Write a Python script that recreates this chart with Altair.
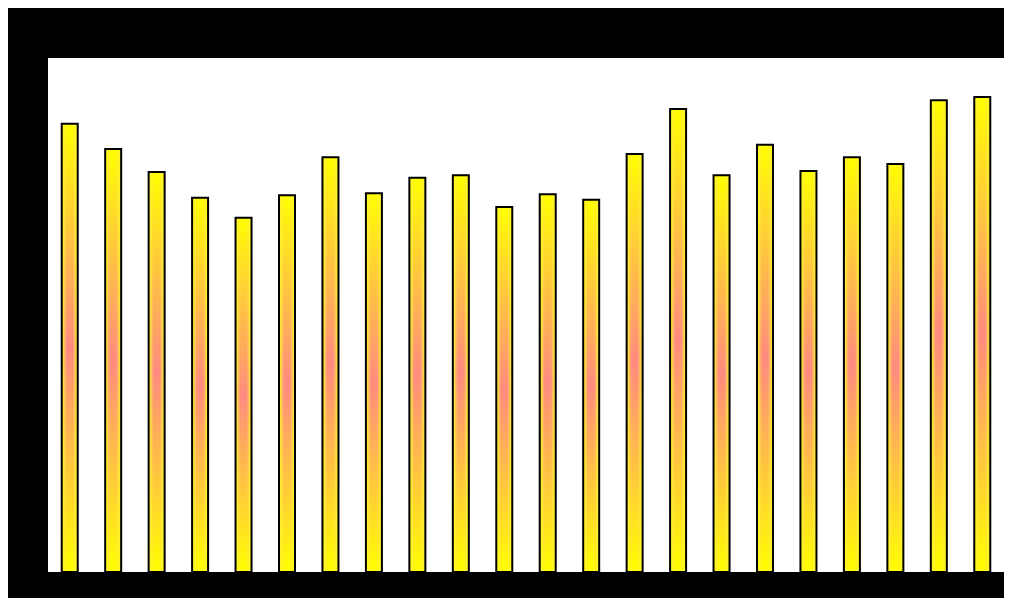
import altair as alt
import pandas as pd

categories = [f"C{i+1}" for i in range(22)]
values = [87.2, 82.3, 77.8, 72.8, 68.9, 73.3, 80.7, 73.7, 76.7, 77.2, 71.0,
          73.5, 72.4, 81.3, 90.1, 77.2, 83.1, 78.0, 80.7, 79.4, 91.8, 92.4]

df = pd.DataFrame({"cat": categories, "val": values})

vert_grad = alt.LinearGradient(
    gradient="linear", x1=0, y1=0, x2=0, y2=1,
    stops=[alt.GradientStop(offset=0, color="#ffff00"),
           alt.GradientStop(offset=0.5, color="#ff8a80"),
           alt.GradientStop(offset=1, color="#ffff00")],
)
horiz_grad = alt.LinearGradient(
    gradient="linear", x1=0, y1=0, x2=1, y2=0,
    stops=[alt.GradientStop(offset=0, color="rgba(255,255,0,1)"),
           alt.GradientStop(offset=0.15, color="rgba(255,240,60,0.6)"),
           alt.GradientStop(offset=0.32, color="rgba(255,220,100,0)"),
           alt.GradientStop(offset=0.68, color="rgba(255,220,100,0)"),
           alt.GradientStop(offset=0.85, color="rgba(255,240,60,0.6)"),
           alt.GradientStop(offset=1, color="rgba(255,255,0,1)")],
)

x = alt.X("cat:N", sort=categories, axis=None,
          scale=alt.Scale(paddingInner=0, paddingOuter=0))
y = alt.Y("val:Q", axis=None, scale=alt.Scale(domain=[0, 100], nice=False, zero=True))

base = alt.Chart(df).encode(x=x, y=y)
layer1 = base.mark_bar(width=16, fill=vert_grad, strokeWidth=0)
layer2 = base.mark_bar(width=16, fill=horiz_grad, stroke="black", strokeWidth=2)

chart = alt.layer(layer1, layer2).properties(
    width=956, height=514,
    background="black",
    autosize=alt.AutoSizeParams(type="none"),
    padding={"left": 40, "top": 50, "right": 0, "bottom": 26},
).configure_view(fill="white", strokeWidth=0)

chart.save("out.html", embed_options={"renderer": "svg", "actions": False})
